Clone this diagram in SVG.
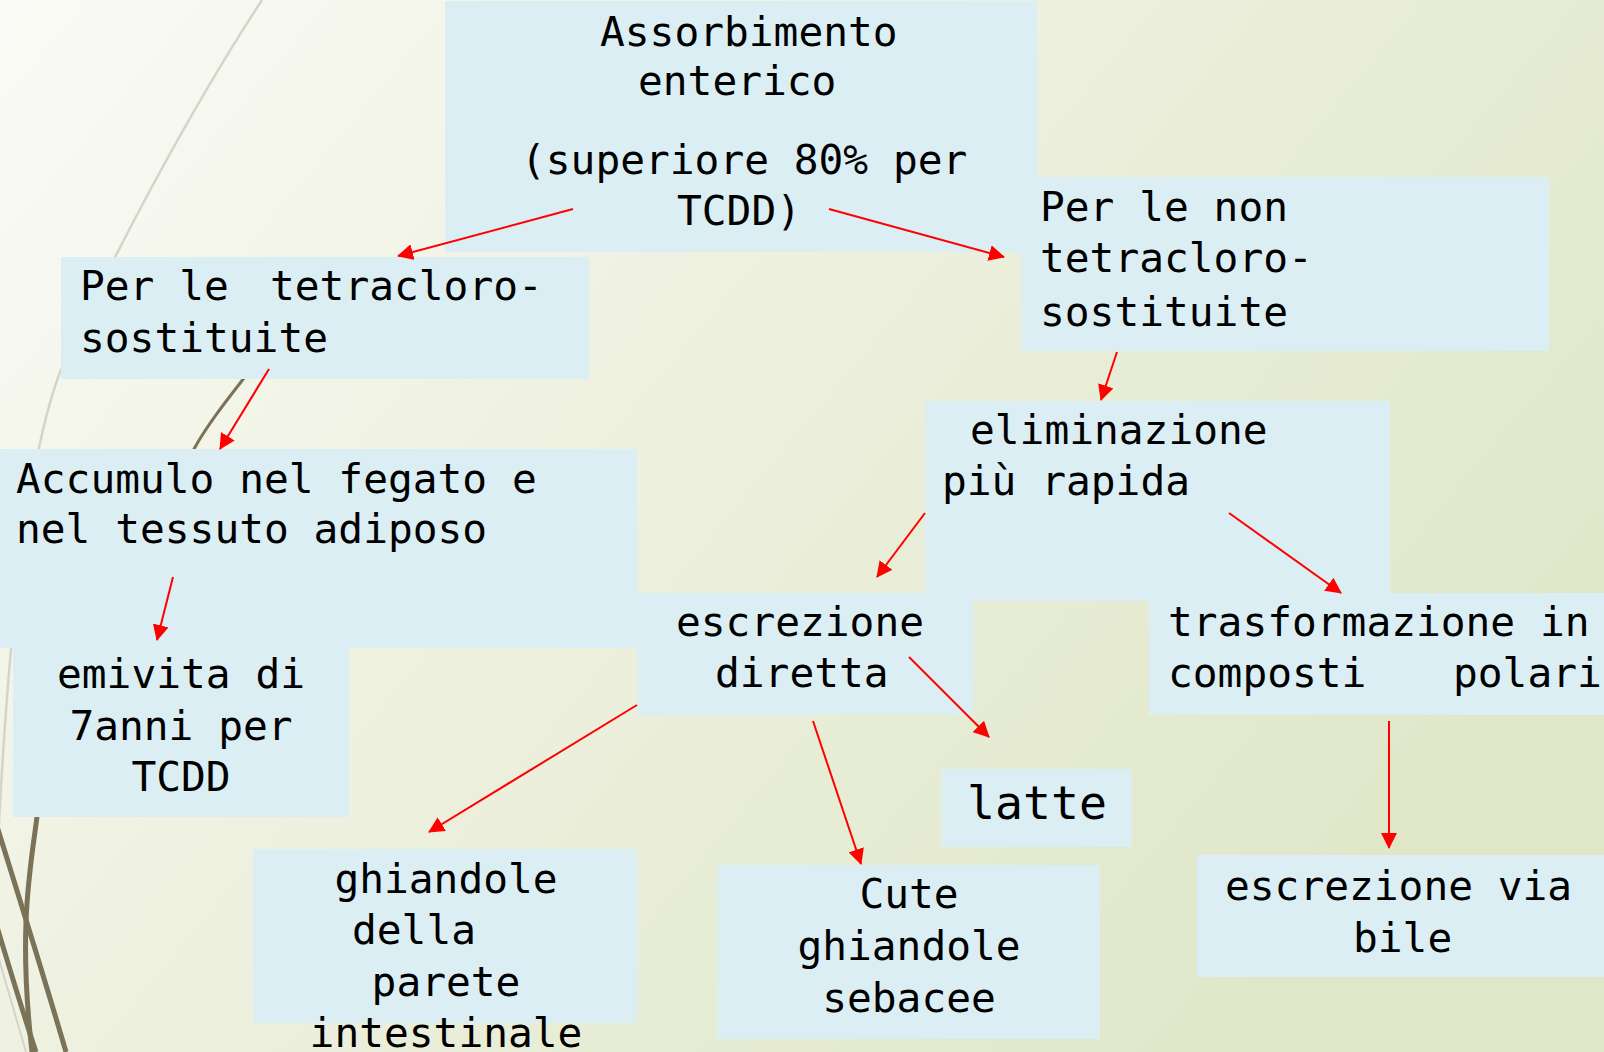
<svg xmlns="http://www.w3.org/2000/svg" width="1604" height="1052" viewBox="0 0 1604 1052">
<defs>
<linearGradient id="bg" x1="0" y1="0" x2="1" y2="0.55">
<stop offset="0" stop-color="#fafbf6"/>
<stop offset="0.45" stop-color="#eef1e0"/>
<stop offset="1" stop-color="#e0e7c9"/>
</linearGradient>
<marker id="ah" viewBox="0 0 16 16" refX="15" refY="8" markerWidth="16" markerHeight="16" markerUnits="userSpaceOnUse" orient="auto">
<path d="M0,0 L16,8 L0,16 z" fill="#ff0000"/>
</marker>
<style>
.box{fill:#dbeef4}
.t{font-family:"DejaVu Sans Mono","Liberation Mono",monospace;font-size:41.2px;fill:#000;white-space:pre}
.big{font-size:46.5px}
.m{text-anchor:middle}
.c{stroke:#ff0000;stroke-width:2;fill:none;marker-end:url(#ah)}
</style>
</defs>
<rect width="1604" height="1052" fill="url(#bg)"/>
<g id="decor" fill="none">
<path d="M262,0 C190,110 110,260 60,372 C20,480 0,700 -10,1052" stroke="#d6d4c8" stroke-width="2.5"/>
<path d="M262,355 C235,390 210,420 194,449 C110,600 45,720 37,817 C30,870 18,930 32,1052" stroke="#7b7258" stroke-width="3"/>
<path d="M37,817 C30,870 18,930 32,1052" stroke="#7b7258" stroke-width="5"/>
<path d="M-5,820 C20,900 45,980 66,1052" stroke="#7b7258" stroke-width="5"/>
<path d="M-5,920 C10,970 22,1010 36,1052" stroke="#7b7258" stroke-width="5"/>
<path d="M-8,935 C5,980 15,1015 26,1052" stroke="#d6d4c8" stroke-width="2"/>
</g>
<g id="n-assorbimento">
<rect class="box" x="445" y="1" width="592" height="251"/>
<text class="t" x="600" y="46">Assorbimento</text>
<text class="t" x="638" y="95">enterico</text>
<text class="t" x="521" y="174">(superiore 80% per</text>
<text class="t" x="677" y="225">TCDD)</text>
</g>
<g id="n-tetra">
<rect class="box" x="61" y="257" width="528" height="122"/>
<text class="t" x="80" y="300">Per le</text>
<text class="t" x="270" y="300">tetracloro-</text>
<text class="t" x="80" y="352">sostituite</text>
</g>
<g id="n-nontetra">
<rect class="box" x="1021" y="177" width="528" height="174"/>
<text class="t" x="1040" y="221">Per le non</text>
<text class="t" x="1040" y="272">tetracloro-</text>
<text class="t" x="1040" y="326">sostituite</text>
</g>
<g id="n-accumulo">
<rect class="box" x="0" y="449" width="637" height="199"/>
<text class="t" x="16" y="493">Accumulo nel fegato e</text>
<text class="t" x="16" y="543">nel tessuto adiposo</text>
</g>
<g id="n-emivita">
<rect class="box" x="13" y="648" width="336" height="169"/>
<text class="t m" x="181" y="688">emivita di</text>
<text class="t m" x="181" y="740">7anni per</text>
<text class="t m" x="181" y="791">TCDD</text>
</g>
<g id="n-eliminazione">
<rect class="box" x="925" y="401" width="465" height="200"/>
<text class="t" x="970" y="444">eliminazione</text>
<text class="t" x="942" y="495">più rapida</text>
</g>
<g id="n-escrezione">
<rect class="box" x="637" y="593" width="336" height="122"/>
<text class="t" x="676" y="636">escrezione</text>
<text class="t" x="715" y="687">diretta</text>
</g>
<g id="n-trasformazione">
<rect class="box" x="1149" y="593" width="455" height="122"/>
<text class="t" x="1168" y="636">trasformazione in</text>
<text class="t" x="1168" y="687">composti</text>
<text class="t" x="1453" y="687">polari</text>
</g>
<g id="n-latte">
<rect class="box" x="941" y="769" width="191" height="78"/>
<text class="t big" x="967" y="819">latte</text>
</g>
<g id="n-ghiandole">
<rect class="box" x="253" y="849" width="384" height="174"/>
<text class="t m" x="446" y="893">ghiandole</text>
<text class="t" x="352" y="944">della</text>
<text class="t m" x="446" y="996">parete</text>
<text class="t m" x="446" y="1047">intestinale</text>
</g>
<g id="n-cute">
<rect class="box" x="717" y="865" width="383" height="174"/>
<text class="t m" x="909" y="908">Cute</text>
<text class="t m" x="909" y="960">ghiandole</text>
<text class="t m" x="909" y="1012">sebacee</text>
</g>
<g id="n-bile">
<rect class="box" x="1197" y="855" width="407" height="122"/>
<text class="t" x="1225" y="900">escrezione via</text>
<text class="t" x="1353" y="952">bile</text>
</g>
<g id="connectors">
<line class="c" x1="573" y1="209" x2="398" y2="256"/>
<line class="c" x1="829" y1="209" x2="1004" y2="257"/>
<line class="c" x1="269" y1="369" x2="220" y2="449"/>
<line class="c" x1="1117" y1="352" x2="1101" y2="400"/>
<line class="c" x1="173" y1="577" x2="157" y2="640"/>
<line class="c" x1="925" y1="513" x2="877" y2="577"/>
<line class="c" x1="1229" y1="513" x2="1341" y2="593"/>
<line class="c" x1="909" y1="657" x2="989" y2="737"/>
<line class="c" x1="813" y1="721" x2="861" y2="864"/>
<line class="c" x1="637" y1="705" x2="429" y2="832"/>
<line class="c" x1="1389" y1="721" x2="1389" y2="848"/>
</g>
</svg>
